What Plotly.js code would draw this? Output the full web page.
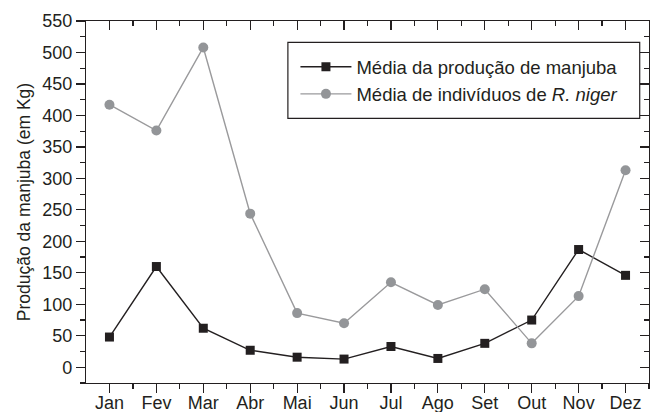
<!DOCTYPE html>
<html>
<head>
<meta charset="utf-8">
<script src="https://cdn.plot.ly/plotly-3.0.1.min.js"></script>
<style>html,body{margin:0;padding:0;background:#fff;}#chart{width:652px;height:412px;}</style>
</head>
<body>
<div id="chart"></div>
<script>
var months = ["Jan","Fev","Mar","Abr","Mai","Jun","Jul","Ago","Set","Out","Nov","Dez"];
var producao = [48, 160, 62, 27, 16, 13, 33, 14, 38, 75, 187, 146];
var rniger = [417, 376, 508, 244, 86, 70, 135, 99, 124, 38, 113, 313];
var seriesNames = ["Média da produção de manjuba", "Média de indivíduos de <i>R. niger</i>"];
var yTickVals = [0,50,100,150,200,250,300,350,400,450,500,550];

var idx = months.map(function(m,i){return i;});
var minorX = months.map(function(m,i){return i+0.5;});
var ink = "#231f20";
var fontFam = "Liberation Sans, Arial, sans-serif";

var traces = [
  {x: idx, y: producao, name: seriesNames[0], type: "scatter", mode: "lines+markers",
   line: {color: ink, width: 1.4}, marker: {symbol: "square", size: 9, color: ink},
   legendgroup: "a"},
  {x: idx, y: rniger, name: seriesNames[1], type: "scatter", mode: "lines+markers",
   line: {color: "#9a9a9c", width: 1.4}, marker: {symbol: "circle", size: 10, color: "#939598"},
   legendgroup: "b"},
  {x: [], y: [], xaxis: "x2", yaxis: "y2", showlegend: false, hoverinfo: "skip", type: "scatter"}
];

var layout = {
  width: 652, height: 412,
  margin: {l: 86, r: 3, t: 21, b: 29},
  paper_bgcolor: "#fff", plot_bgcolor: "#fff",
  font: {family: fontFam, size: 18, color: ink},
  showlegend: true,
  legend: {x: 0.3720, y: 0.9246, xanchor: "left", yanchor: "top",
    bgcolor: "rgba(0,0,0,0)", borderwidth: 0,
    font: {family: fontFam, size: 18.5, color: ink},
    traceorder: "grouped", tracegroupgap: 0, itemwidth: 51},
  shapes: [{type: "rect", xref: "paper", yref: "paper", x0: 0.3586, x1: 0.9835, y0: 0.7312, y1: 0.9412,
    line: {color: ink, width: 1.2}, fillcolor: "#fff", layer: "below"}],
  xaxis: {range: [-0.5, 11.5], tickmode: "array", tickvals: idx, ticktext: months,
    ticks: "outside", ticklen: 9, tickwidth: 1.2, tickcolor: ink, ticklabelstandoff: -6,
    showline: true, linecolor: ink, linewidth: 1.2, showgrid: false, zeroline: false,
    minor: {tickvals: minorX, ticks: "outside", ticklen: 5, tickwidth: 1.2, tickcolor: ink, showgrid: false},
    tickfont: {size: 18}},
  yaxis: {range: [-25, 550], tickmode: "array", tickvals: yTickVals,
    ticks: "outside", ticklen: 9, tickwidth: 1.2, tickcolor: ink,
    showline: true, linecolor: ink, linewidth: 1.2, showgrid: false, zeroline: false,
    minor: {dtick: 25, tick0: 0, ticks: "outside", ticklen: 5, tickwidth: 1.2, tickcolor: ink, showgrid: false},
    tickfont: {size: 18},
    title: {text: "Produção da manjuba (em Kg)", font: {size: 17.5}, standoff: 7}},
  xaxis2: {overlaying: "x", side: "top", anchor: "y2", range: [-0.5, 11.5],
    tickmode: "array", tickvals: idx, showticklabels: false,
    ticks: "inside", ticklen: 9, tickwidth: 1.2, tickcolor: ink,
    showline: true, linecolor: ink, linewidth: 1.2, showgrid: false, zeroline: false,
    minor: {tickvals: minorX, ticks: "inside", ticklen: 5, tickwidth: 1.2, tickcolor: ink, showgrid: false}},
  yaxis2: {overlaying: "y", side: "right", anchor: "x2", range: [-25, 550],
    tickmode: "array", tickvals: yTickVals, showticklabels: false,
    ticks: "inside", ticklen: 9, tickwidth: 1.2, tickcolor: ink,
    showline: true, linecolor: ink, linewidth: 1.2, showgrid: false, zeroline: false,
    minor: {dtick: 25, tick0: 0, ticks: "inside", ticklen: 5, tickwidth: 1.2, tickcolor: ink, showgrid: false}}
};

Plotly.newPlot("chart", traces, layout, {staticPlot: true, displayModeBar: false});
</script>
</body>
</html>
